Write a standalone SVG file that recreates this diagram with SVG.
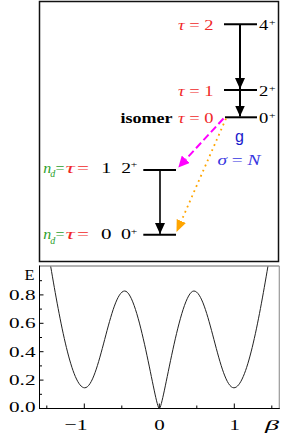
<svg xmlns="http://www.w3.org/2000/svg" width="291" height="443" viewBox="0 0 291 443" font-family="'Liberation Serif','Times New Roman',serif">
<style>
text{font-family:'Liberation Serif','Times New Roman',serif;}
.red{fill:#f02828;}
.grn{fill:#2ca02c;}
.blk{fill:#000;}
.it{font-style:italic;}
.lvl{stroke:#000;stroke-width:2;fill:none;}
.s14{font-size:14px;}
.s15{font-size:15px;}
.sup{font-size:9px;}
.sub{font-size:10px;}
.ax{font-size:15.5px;fill:#000;}
.tick{stroke:#000;stroke-width:1;}
</style>
<defs>
<marker id="ahk" markerUnits="userSpaceOnUse" markerWidth="11" markerHeight="10" refX="11" refY="5" orient="auto" viewBox="0 0 11 10">
<path d="M0,0 L11,5 L0,10 z" fill="#000"/>
</marker>
<marker id="ahm" markerUnits="userSpaceOnUse" markerWidth="11" markerHeight="11" refX="0" refY="5.5" orient="auto" viewBox="0 0 11 11">
<path d="M0,0 L11,5.5 L0,11 z" fill="#ff00ff"/>
</marker>
<marker id="aho" markerUnits="userSpaceOnUse" markerWidth="12" markerHeight="10" refX="0" refY="5" orient="auto" viewBox="0 0 12 10">
<path d="M0,0 L12,5 L0,10 z" fill="#ffa500"/>
</marker>
</defs>

<rect id="frame" x="39.5" y="1.5" width="239" height="260" fill="#fff" stroke="#111" stroke-width="1.5"/>

<g id="level-4plus">
<line class="lvl" x1="224" y1="24.3" x2="257" y2="24.3"/>
<text class="s14 red" x="178" y="30" textLength="35.5" lengthAdjust="spacingAndGlyphs"><tspan class="it">τ</tspan> = 2</text>
<text class="s14 blk" x="259" y="30" textLength="9.3" lengthAdjust="spacingAndGlyphs">4</text>
<text class="sup blk" x="269" y="25" textLength="6.5" lengthAdjust="spacingAndGlyphs">+</text>
</g>

<g id="level-2plus-upper">
<line class="lvl" x1="224" y1="90" x2="257" y2="90"/>
<text class="s14 red" x="178" y="96" textLength="35.5" lengthAdjust="spacingAndGlyphs"><tspan class="it">τ</tspan> = 1</text>
<text class="s14 blk" x="259" y="96" textLength="9.3" lengthAdjust="spacingAndGlyphs">2</text>
<text class="sup blk" x="269" y="91" textLength="6.5" lengthAdjust="spacingAndGlyphs">+</text>
</g>

<g id="level-0plus-isomer">
<line class="lvl" x1="225" y1="117.3" x2="257" y2="117.3"/>
<text class="s14 blk" x="120.5" y="123.3" font-weight="bold" textLength="52" lengthAdjust="spacingAndGlyphs">isomer</text>
<text class="s14 red" x="178" y="123.3" textLength="35.5" lengthAdjust="spacingAndGlyphs"><tspan class="it">τ</tspan> = 0</text>
<text class="s14 blk" x="259" y="123.3" textLength="9.3" lengthAdjust="spacingAndGlyphs">0</text>
<text class="sup blk" x="269" y="118.3" textLength="6.5" lengthAdjust="spacingAndGlyphs">+</text>
</g>

<g id="level-2plus-lower">
<line class="lvl" x1="143.3" y1="170" x2="176" y2="170"/>
<text class="s15 grn it" x="43.3" y="172.7" textLength="8" lengthAdjust="spacingAndGlyphs">n</text>
<text class="sub grn it" x="50.3" y="177" textLength="5" lengthAdjust="spacingAndGlyphs">d</text>
<text class="s15 grn" x="55.6" y="172.7" textLength="9" lengthAdjust="spacingAndGlyphs">=</text>
<text class="s15 red it" x="65.6" y="172.7" textLength="9.2" lengthAdjust="spacingAndGlyphs">τ</text>
<text class="s15 red" x="77" y="172.7" textLength="12" lengthAdjust="spacingAndGlyphs">=</text>
<text class="s15 blk" x="101.3" y="172.7" textLength="10" lengthAdjust="spacingAndGlyphs">1</text>
<text class="s15 blk" x="121.3" y="172.7" textLength="9.8" lengthAdjust="spacingAndGlyphs">2</text>
<text class="sup blk" x="130.7" y="167.2" textLength="6.5" lengthAdjust="spacingAndGlyphs">+</text>
</g>

<g id="level-0plus-lower">
<line class="lvl" x1="143.3" y1="234.7" x2="176" y2="234.7"/>
<text class="s15 grn it" x="43.3" y="239.3" textLength="8" lengthAdjust="spacingAndGlyphs">n</text>
<text class="sub grn it" x="50.3" y="243.6" textLength="5" lengthAdjust="spacingAndGlyphs">d</text>
<text class="s15 grn" x="55.6" y="239.3" textLength="9" lengthAdjust="spacingAndGlyphs">=</text>
<text class="s15 red it" x="65.6" y="239.3" textLength="9.2" lengthAdjust="spacingAndGlyphs">τ</text>
<text class="s15 red" x="77" y="239.3" textLength="12" lengthAdjust="spacingAndGlyphs">=</text>
<text class="s15 blk" x="101" y="239.3" textLength="10.5" lengthAdjust="spacingAndGlyphs">0</text>
<text class="s15 blk" x="121" y="239.3" textLength="10" lengthAdjust="spacingAndGlyphs">0</text>
<text class="sup blk" x="130.7" y="233.8" textLength="6.5" lengthAdjust="spacingAndGlyphs">+</text>
</g>

<g id="connectors">
<line x1="240" y1="24.3" x2="240" y2="89" stroke="#000" stroke-width="2" marker-end="url(#ahk)"/>
<line x1="240" y1="90" x2="240" y2="116.5" stroke="#000" stroke-width="2" marker-end="url(#ahk)"/>
<line x1="160" y1="170" x2="160" y2="234" stroke="#000" stroke-width="1.6" marker-end="url(#ahk)"/>
<line x1="223.5" y1="118.5" x2="185.8" y2="159.3" stroke="#ff00ff" stroke-width="2" stroke-dasharray="7.5 3.5" marker-end="url(#ahm)"/>
<line x1="226" y1="118.5" x2="181.3" y2="221" stroke="#ffa500" stroke-width="1.8" stroke-dasharray="1.8 3.8" marker-end="url(#aho)"/>
<text x="235" y="142" font-family="'Liberation Sans',Arial,sans-serif" style="font-family:'Liberation Sans',Arial,sans-serif" font-size="16" fill="#1a1acc">g</text>
<text x="217.5" y="165" font-size="14.5" fill="#3535e0" textLength="43" lengthAdjust="spacingAndGlyphs"><tspan font-style="italic">σ</tspan> = <tspan font-style="italic">N</tspan></text>
</g>

<g id="plot">
<line x1="39.5" y1="266" x2="279.3" y2="266" stroke="#999" stroke-width="1.5"/>
<line x1="279.3" y1="266" x2="279.3" y2="408.5" stroke="#999" stroke-width="1.2"/>
<line x1="39.5" y1="265.5" x2="39.5" y2="409" stroke="#000" stroke-width="1"/>
<line x1="39" y1="408.5" x2="279.8" y2="408.5" stroke="#000" stroke-width="1"/>
<g class="tick">
<line x1="39.5" y1="394.3" x2="42" y2="394.3"/>
<line x1="39.5" y1="380.1" x2="43.5" y2="380.1"/>
<line x1="39.5" y1="365.9" x2="42" y2="365.9"/>
<line x1="39.5" y1="351.7" x2="43.5" y2="351.7"/>
<line x1="39.5" y1="337.5" x2="42" y2="337.5"/>
<line x1="39.5" y1="323.3" x2="43.5" y2="323.3"/>
<line x1="39.5" y1="309.1" x2="42" y2="309.1"/>
<line x1="39.5" y1="294.9" x2="43.5" y2="294.9"/>
<line x1="39.5" y1="280.7" x2="42" y2="280.7"/>
<line x1="46.8" y1="408.5" x2="46.8" y2="405.5"/>
<line x1="84.3" y1="408.5" x2="84.3" y2="403.5"/>
<line x1="121.8" y1="408.5" x2="121.8" y2="405.5"/>
<line x1="159.3" y1="408.5" x2="159.3" y2="403.5"/>
<line x1="196.8" y1="408.5" x2="196.8" y2="405.5"/>
<line x1="234.3" y1="408.5" x2="234.3" y2="403.5"/>
<line x1="271.8" y1="408.5" x2="271.8" y2="405.5"/>
</g>
<text class="ax" x="24.5" y="280" font-size="16" textLength="10" lengthAdjust="spacingAndGlyphs">E</text>
<text class="ax" x="9" y="300" textLength="26.5" lengthAdjust="spacingAndGlyphs">0.8</text>
<text class="ax" x="9" y="328.4" textLength="26.5" lengthAdjust="spacingAndGlyphs">0.6</text>
<text class="ax" x="9" y="356.8" textLength="26.5" lengthAdjust="spacingAndGlyphs">0.4</text>
<text class="ax" x="9" y="385.2" textLength="26.5" lengthAdjust="spacingAndGlyphs">0.2</text>
<text class="ax" x="9" y="412" textLength="26.5" lengthAdjust="spacingAndGlyphs">0.0</text>
<text class="ax" x="64.5" y="430" textLength="23" lengthAdjust="spacingAndGlyphs">−1</text>
<text class="ax" x="154.3" y="430" textLength="10.5" lengthAdjust="spacingAndGlyphs">0</text>
<text class="ax" x="229.4" y="430" textLength="10.3" lengthAdjust="spacingAndGlyphs">1</text>
<text class="ax it" x="265" y="430" textLength="14" lengthAdjust="spacingAndGlyphs">β</text>
<path d="M50.7,266.5 C60,321 72,387.8 84.7,387.8 C99.2,387.8 110.2,291 124.7,291 C138.7,291 155.3,408.5 159.3,408.5 C163.3,408.5 179.9,291 193.9,291 C208.4,291 219.4,387.8 233.9,387.8 C246.6,387.8 258.6,321 267.9,266.5" fill="none" stroke="#222" stroke-width="1"/>
</g>
</svg>
